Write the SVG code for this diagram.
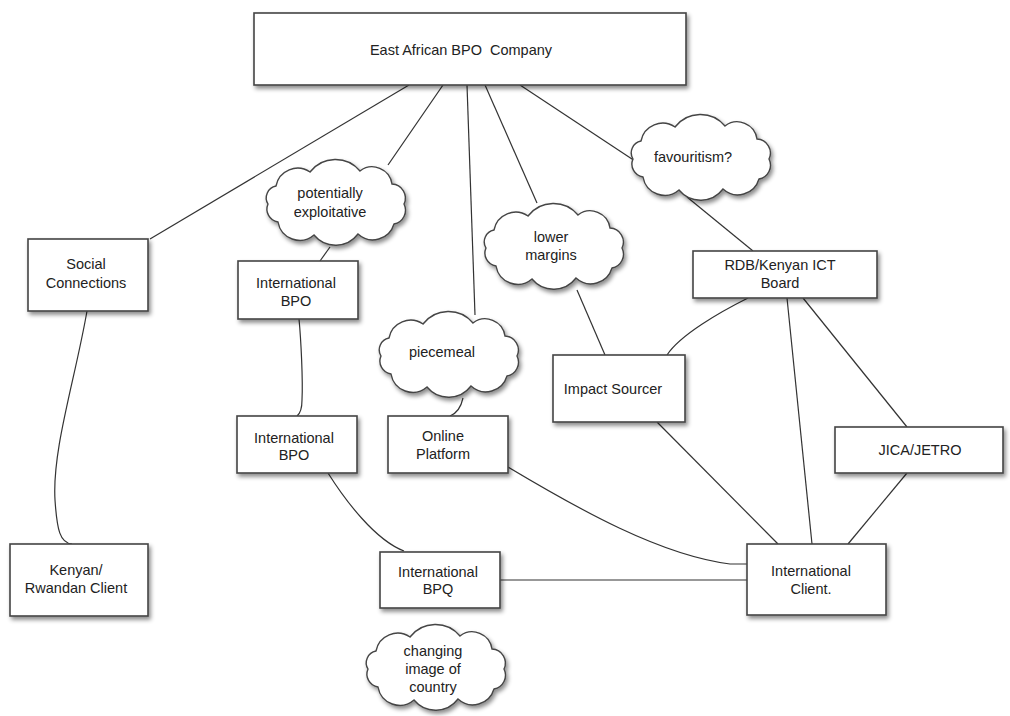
<svg xmlns="http://www.w3.org/2000/svg" xmlns:xlink="http://www.w3.org/1999/xlink" width="1010" height="716" viewBox="0 0 1010 716">
<style>
.box{fill:#fff;stroke:#444;stroke-width:1.6;filter:url(#sh)}
.cloud{fill:#fff;stroke:#444;stroke-width:1.4;filter:url(#sh)}
.lbl{font-family:"Liberation Sans",Arial,sans-serif;font-size:14.5px;fill:#222;text-anchor:middle}
.con path{fill:none;stroke:#333;stroke-width:1.2}
</style>
<defs>
<filter id="sh" x="-20%" y="-20%" width="150%" height="160%">
<feDropShadow dx="2" dy="3" stdDeviation="2" flood-color="#000" flood-opacity="0.45"/>
</filter>
<path id="cloudShape" d="M16,28 A22,22 0 0 1 50,14 A32,32 0 0 1 100,13 A20,20 0 0 1 132,26 A14,14 0 0 1 144,46 A14,14 0 0 1 134,66 A22,22 0 0 1 98,76 A28,28 0 0 1 54,77 A22,22 0 0 1 18,64 A13,13 0 0 1 8,46 A12,12 0 0 1 16,28 Z"/>
</defs>
<rect width="1010" height="716" fill="#fff"/>
<g id="connectors" class="con">
<path d="M409,85 L150,239"/>
<path d="M443,85 L388,165"/>
<path d="M330,247 L320,261"/>
<path d="M467,85 L475,315"/>
<path d="M485,85 L537,203"/>
<path d="M520,85 L638,163"/>
<path d="M687,197 L753,251"/>
<path d="M577,290 L605,355"/>
<path d="M748,298 C720,312 680,335 667,355"/>
<path d="M787,298 L812,544"/>
<path d="M803,298 L907,427"/>
<path d="M907,473 L848,544"/>
<path d="M657,422 L778,544"/>
<path d="M508,467 C580,510 660,555 730,564 L747,564"/>
<path d="M500,580 L747,580"/>
<path d="M328,473 C345,500 375,540 404,551"/>
<path d="M299,319 C301,340 303,380 302,400 Q302,412 297,416"/>
<path d="M87,311 C75,380 52,450 55,500 C57,530 60,543 72,544"/>
<path d="M463,398 Q460,412 450,416"/>
</g>
<g id="east-african-bpo">
<rect class="box" x="254" y="13" width="432" height="72"/>
<text class="lbl" x="461" y="55" xml:space="preserve">East African BPO  Company</text>
</g>
<g id="social-connections">
<rect class="box" x="28" y="239" width="120" height="72"/>
<text class="lbl" x="86" y="269">Social</text>
<text class="lbl" x="86" y="288">Connections</text>
</g>
<g id="cloud-exploitative">
<use class="cloud" href="#cloudShape" x="260" y="158"/>
<text class="lbl" x="330" y="198">potentially</text>
<text class="lbl" x="330" y="217">exploitative</text>
</g>
<g id="intl-bpo-1">
<rect class="box" x="238" y="261" width="120" height="58"/>
<text class="lbl" x="296" y="288">International</text>
<text class="lbl" x="296" y="306">BPO</text>
</g>
<g id="cloud-piecemeal">
<use class="cloud" href="#cloudShape" x="373" y="310"/>
<text class="lbl" x="442" y="357">piecemeal</text>
</g>
<g id="cloud-lower-margins">
<use class="cloud" href="#cloudShape" x="478" y="202"/>
<text class="lbl" x="551" y="242">lower</text>
<text class="lbl" x="551" y="260">margins</text>
</g>
<g id="cloud-favouritism">
<use class="cloud" href="#cloudShape" x="625" y="113"/>
<text class="lbl" x="693" y="162">favouritism?</text>
</g>
<g id="rdb-kenyan-ict">
<rect class="box" x="693" y="251" width="184" height="47"/>
<text class="lbl" x="780" y="270">RDB/Kenyan ICT</text>
<text class="lbl" x="780" y="288">Board</text>
</g>
<g id="impact-sourcer">
<rect class="box" x="553" y="355" width="132" height="67"/>
<text class="lbl" x="613" y="394">Impact Sourcer</text>
</g>
<g id="jica-jetro">
<rect class="box" x="835" y="427" width="168" height="46"/>
<text class="lbl" x="920" y="455">JICA/JETRO</text>
</g>
<g id="intl-bpo-2">
<rect class="box" x="237" y="416" width="120" height="57"/>
<text class="lbl" x="294" y="443">International</text>
<text class="lbl" x="294" y="460">BPO</text>
</g>
<g id="online-platform">
<rect class="box" x="388" y="416" width="120" height="57"/>
<text class="lbl" x="443" y="441">Online</text>
<text class="lbl" x="443" y="459">Platform</text>
</g>
<g id="kenyan-rwandan-client">
<rect class="box" x="10" y="544" width="138" height="72"/>
<text class="lbl" x="76" y="575">Kenyan/</text>
<text class="lbl" x="76" y="593">Rwandan Client</text>
</g>
<g id="intl-bpq">
<rect class="box" x="380" y="552" width="120" height="56"/>
<text class="lbl" x="438" y="577">International</text>
<text class="lbl" x="438" y="594">BPQ</text>
</g>
<g id="intl-client">
<rect class="box" x="747" y="544" width="139" height="71"/>
<text class="lbl" x="811" y="576">International</text>
<text class="lbl" x="811" y="594">Client.</text>
</g>
<g id="cloud-changing-image">
<use class="cloud" href="#cloudShape" x="360" y="623"/>
<text class="lbl" x="433" y="656">changing</text>
<text class="lbl" x="433" y="674">image of</text>
<text class="lbl" x="433" y="692">country</text>
</g>
</svg>
